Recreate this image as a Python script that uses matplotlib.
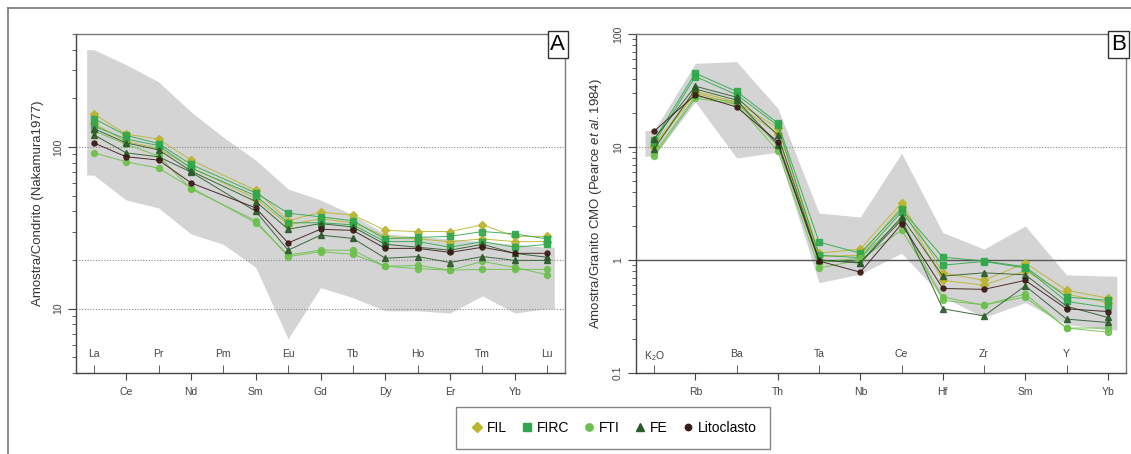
import numpy as np
import matplotlib.pyplot as plt
from matplotlib.lines import Line2D
from matplotlib.ticker import LogLocator, NullFormatter, FixedLocator

plt.rcParams['font.family'] = ['Liberation Sans', 'DejaVu Sans']
plt.rcParams['mathtext.fontset'] = 'custom'
plt.rcParams['mathtext.rm'] = 'Liberation Sans'
plt.rcParams['mathtext.it'] = 'Liberation Sans:italic'

# ---- panel A: REE normalised to chondrite ----
ree = ['La', 'Ce', 'Pr', 'Nd', 'Pm', 'Sm', 'Eu', 'Gd', 'Tb', 'Dy', 'Ho', 'Er', 'Tm', 'Yb', 'Lu']
ree_upper = [400, 323, 253, 165, 115, 83, 55, 47, 38, 29, 28, 27, 26, 25, 24]
ree_lower = [67, 47, 42, 29, 25, 18, 6.5, 13.5, 11.7, 9.7, 9.7, 9.4, 12, 9.4, 10]

N = None
ree_fil = [
    [160, 120, 112, 83, N, 54, 35, 39.5, 38, 30.5, 30, 30, 33, 28, 28],
    [140, 108, 98, 75, N, 48, 33, 36, 34, 28, 27, 26, 27, 26, 26],
]
ree_firc = [
    [150, 118, 105, 78, N, 52, 39, 37, 35, 27, 27.6, 28, 30, 29, 27],
    [135, 112, 102, 74, N, 50, 34, 34, 33, 26, 26, 24, 26, 24, 25],
]
ree_fti = [
    [92, 81, 74, 56, N, 34, 21.5, 23, 23, 18.3, 18.5, 17.3, 19.6, 18, 16.2],
    [126, 104, 88, 55, N, 35, 21, 22.5, 21.7, 18.3, 17.7, 17.3, 17.5, 17.5, 17.5],
]
ree_fe = [
    [119, 92, 87, 70, N, 40, 23, 28.5, 27.2, 20.5, 21, 19.3, 21, 19.9, 19.9],
    [130, 106, 96, 71, N, 46, 31, 33.6, 32, 25, 24, 23, 25, 22, 20.8],
]
ree_lito = [
    [106, 87, 83, 60, N, 42, 25.5, 31, 30.5, 23.6, 23.6, 22.3, 24, 22, 22],
]

# ---- panel B: normalised to ocean ridge granite ----
orb = ['K$_2$O', 'Rb', 'Ba', 'Th', 'Ta', 'Nb', 'Ce', 'Hf', 'Zr', 'Sm', 'Y', 'Yb']
orb_upper = [14, 55, 57, 22, 2.6, 2.4, 8.8, 1.75, 1.25, 2.0, 0.74, 0.72]
orb_lower = [8.3, 25, 8.0, 9.0, 0.63, 0.75, 1.15, 0.47, 0.31, 0.42, 0.27, 0.24]

orb_fil = [
    [10.4, 31, 25, 14.7, 1.15, 1.25, 3.2, 0.77, 0.66, 0.94, 0.54, 0.46],
    [10.0, 30, 24, 13.0, 1.08, 1.10, 2.95, 0.66, 0.60, 0.80, 0.50, 0.42],
]
orb_firc = [
    [11.5, 45, 31, 16.3, 1.44, 1.15, 2.8, 1.06, 0.98, 0.87, 0.47, 0.44],
    [10.8, 42, 29, 15.5, 1.10, 1.05, 2.66, 0.90, 0.97, 0.85, 0.43, 0.38],
]
orb_fti = [
    [8.3, 27, 24, 9.2, 0.85, 1.00, 1.84, 0.47, 0.40, 0.47, 0.25, 0.23],
    [8.8, 28, 25, 10.2, 0.95, 1.04, 2.30, 0.44, 0.40, 0.50, 0.25, 0.25],
]
orb_fe = [
    [11.8, 34.5, 27.6, 12.8, 1.00, 0.94, 2.26, 0.37, 0.32, 0.59, 0.30, 0.28],
    [9.6, 32.6, 26, 10.5, 1.00, 0.95, 2.40, 0.72, 0.77, 0.74, 0.39, 0.31],
]
orb_lito = [
    [13.8, 29, 22.6, 11.1, 0.98, 0.78, 2.08, 0.56, 0.55, 0.66, 0.37, 0.35],
]

groups = ['FIL', 'FIRC', 'FTI', 'FE', 'Litoclasto']
colors = {'FIL': '#b9b52c', 'FIRC': '#2fa84c', 'FTI': '#6cc04c', 'FE': '#2c5a2a', 'Litoclasto': '#3a1a16'}
markers = {'FIL': 'D', 'FIRC': 's', 'FTI': 'o', 'FE': '^', 'Litoclasto': 'o'}
msizes = {'FIL': 3.6, 'FIRC': 4.3, 'FTI': 4.3, 'FE': 4.6, 'Litoclasto': 3.6}


def draw_samples(ax, data):
    for g, samples in data.items():
        for s in samples:
            x = np.array([i for i, v in enumerate(s) if v is not None])
            y = np.array([v for v in s if v is not None])
            ax.plot(x, y, color=colors[g], lw=0.7, alpha=0.9,
                    marker=markers[g], ms=msizes[g], mec=colors[g], mfc=colors[g], zorder=3)


def setup(ax, labels, ylabel, letter, ylim):
    n = len(labels)
    xs = np.arange(n)
    ax.set_yscale('log')
    ax.set_ylim(*ylim)
    inner = xs[::2]
    outer = xs[1::2]
    ax.xaxis.set_major_locator(FixedLocator(outer))
    ax.set_xticklabels([labels[i] for i in outer])
    ax.xaxis.set_minor_locator(FixedLocator(inner))
    ax.set_xticklabels([labels[i] for i in inner], minor=True)
    ax.tick_params(axis='x', which='major', direction='out', length=5, labelsize=7.5, colors='#444', pad=5)
    ax.tick_params(axis='x', which='minor', direction='in', length=6, labelsize=7.5, colors='#444', pad=-17)
    ax.tick_params(axis='y', which='major', length=6, labelsize=7.5, colors='#444', labelrotation=90)
    ax.tick_params(axis='y', which='minor', length=3, colors='#444')
    ax.yaxis.set_minor_locator(LogLocator(base=10, subs=np.arange(2, 10)))
    ax.yaxis.set_minor_formatter(NullFormatter())
    for sp in ax.spines.values():
        sp.set_color('#777')
        sp.set_linewidth(1)
    ax.spines['left'].set_color('#444')
    ax.spines['bottom'].set_color('#444')
    ax.set_ylabel(ylabel, fontsize=9.5, color='#333', labelpad=6)
    ax.text(1, 1, letter, transform=ax.transAxes, ha='right', va='top', fontsize=16,
            bbox=dict(boxstyle='square,pad=0.12', fc='white', ec='#333', lw=1), zorder=5)


def envelope(ax, upper, lower):
    xs = np.arange(len(upper))
    pad = 0.22
    xe = np.concatenate([[xs[0] - pad], xs, [xs[-1] + pad]])
    up = np.concatenate([[upper[0]], upper, [upper[-1]]])
    lo = np.concatenate([[lower[0]], lower, [lower[-1]]])
    ax.fill_between(xe, lo, up, color='#d4d4d4', lw=0, zorder=1)


fig = plt.figure(figsize=(11.31, 4.54), dpi=100)
axA = fig.add_axes([0.0672, 0.1784, 0.4324, 0.7467])
axB = fig.add_axes([0.5623, 0.1784, 0.4332, 0.7467])

# panel A
envelope(axA, ree_upper, ree_lower)
for yv in [10, 20, 100]:
    axA.axhline(yv, color='#888', ls=(0, (1, 1.5)), lw=0.8, zorder=2)
draw_samples(axA, {'FIL': ree_fil, 'FIRC': ree_firc, 'FTI': ree_fti, 'FE': ree_fe, 'Litoclasto': ree_lito})
setup(axA, ree, 'Amostra/Condrito (Nakamura1977)', 'A', (4, 500))
axA.set_xlim(-0.55, 14.55)
axA.set_yticks([10, 100])
axA.set_yticklabels(['10', '100'])

# panel B
envelope(axB, orb_upper, orb_lower)
axB.axhline(10, color='#888', ls=(0, (1, 1.5)), lw=0.8, zorder=2)
axB.axhline(1, color='#555', lw=1, zorder=2)
draw_samples(axB, {'FIL': orb_fil, 'FIRC': orb_firc, 'FTI': orb_fti, 'FE': orb_fe, 'Litoclasto': orb_lito})
setup(axB, orb, 'Amostra/Granito CMO (Pearce $et$ $al.$1984)', 'B', (0.1, 100))
axB.set_xlim(-0.44, 11.44)
axB.set_yticks([0.1, 1, 10, 100])
axB.set_yticklabels(['0.1', '1', '10', '100'])
for ax in (axA, axB):
    for lbl in ax.get_yticklabels():
        lbl.set_va('center')

# legend
handles = [Line2D([], [], ls='none', marker=markers[g], color=colors[g], ms=msizes[g] + 1.0, label=g)
           for g in groups]
leg = fig.legend(handles=handles, loc='center', bbox_to_anchor=(0.542, 0.058), ncol=5,
                 fontsize=10, frameon=True, fancybox=False, edgecolor='#666',
                 handletextpad=0.15, columnspacing=0.9, borderpad=1.0, handlelength=1.1)
leg.get_frame().set_linewidth(1)

# outer frame
fig.add_artist(Line2D([8 / 1131, 8 / 1131], [0, 1 - 8 / 454], color='#777', lw=1.2))
fig.add_artist(Line2D([8 / 1131, 1], [1 - 8 / 454, 1 - 8 / 454], color='#777', lw=1.2))

fig.savefig('out.png', dpi=100)
